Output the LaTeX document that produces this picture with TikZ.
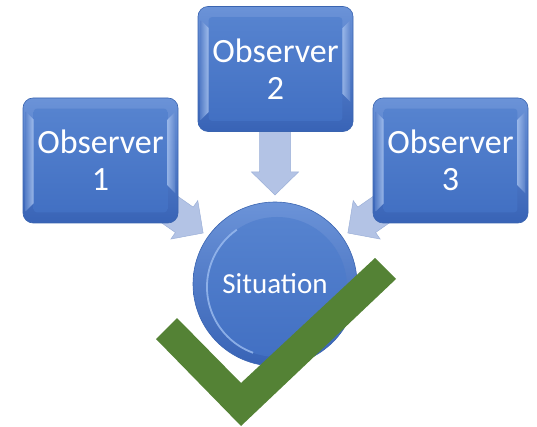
\documentclass[tikz,border=0pt]{standalone}
\usepackage{fontspec}
\setmainfont{Carlito}
\usetikzlibrary{calc}
\definecolor{boxedge}{HTML}{3A64B0}
\definecolor{boxtop}{HTML}{6B93D8}
\definecolor{boxbot}{HTML}{3863B6}
\definecolor{facetop}{HTML}{5683CF}
\definecolor{facebot}{HTML}{4270C3}
\definecolor{hilite}{HTML}{9DBDF0}
\definecolor{arrowfill}{HTML}{B3C3E5}
\definecolor{arrowedge}{HTML}{9CB0D8}
\definecolor{checkgreen}{HTML}{548235}
\newcommand\observerbox[4]{%
  \node[obsbg] (#1bg) at (#2,#3) {};
  \shade[top color=facetop,bottom color=facebot,rounded corners=3pt]
    ($(#1bg.north west)+(11,11)$) rectangle ($(#1bg.south east)+(-11,-11)$);
  \shade[left color=boxbot!60!hilite,right color=hilite!80!white,opacity=0.8]
    ($(#1bg.north west)+(3,14)$) -- ($(#1bg.north west)+(11,22)$) --
    ($(#1bg.south west)+(11,-20)$) -- ($(#1bg.south west)+(3,-12)$) -- cycle;
  \shade[left color=hilite!80!white,right color=boxbot!60!hilite,opacity=0.7]
    ($(#1bg.north east)+(-11,22)$) -- ($(#1bg.north east)+(-3,14)$) --
    ($(#1bg.south east)+(-3,-30)$) -- ($(#1bg.south east)+(-11,-38)$) -- cycle;
  \node[obstext] (#1) at (#1bg) {#4};
}
\newcommand\blockarrow[3]{%
  \begin{scope}[shift={#1},rotate=#2]
    \draw[blockarr] (0,-15.5) -- (#3-23,-15.5) -- (#3-23,-23.5) -- (#3,0) --
      (#3-23,23.5) -- (#3-23,15.5) -- (0,15.5) -- cycle;
  \end{scope}}
\begin{document}
\begin{tikzpicture}[x=1pt,y=-1pt,
  obsbg/.style={rounded corners=10pt,minimum width=155pt,minimum height=125pt,
    draw=boxedge,line width=0.6pt,top color=boxtop,bottom color=boxbot,inner sep=0pt},
  obstext/.style={minimum width=155pt,minimum height=125pt,inner sep=0pt,
    text=white,align=center,font=\fontsize{34}{37}\selectfont},
  blockarr/.style={fill=arrowfill,draw=arrowedge,line width=0.5pt,line join=miter},
  sittext/.style={circle,minimum size=164pt,inner sep=0pt,text=white,
    font=\fontsize{29}{33}\selectfont}]
\useasboundingbox (0,0) rectangle (537,427);
% block arrows (behind)
\coordinate (t1) at (154,198.6);
\coordinate (t2) at (275,122);
\coordinate (t3) at (397,198.6);
\blockarrow{(t2)}{-90}{73}
\blockarrow{(t1)}{-35}{60}
\blockarrow{(t3)}{-145}{60}
% observer boxes
\observerbox{o1}{100.5}{160.5}{Observer\\1}
\observerbox{o2}{275.5}{69}{Observer\\2}
\observerbox{o3}{450.5}{160.5}{Observer\\3}
% situation circle
\shade[top color=boxtop,bottom color=boxbot,draw=boxedge,line width=0.6pt]
  (275,284) circle[radius=82];
\shade[top color=facetop,bottom color=facebot] (277,287) circle[radius=70];
\draw[hilite,line width=1.8pt,opacity=0.8] (277,287) ++(110:70) arc[start angle=110,end angle=235,radius=70];
\node[sittext] (sit) at (275,284) {Situation};
% check mark
\fill[checkgreen] (156,339) -- (241,426) -- (396,279) -- (375,258) -- (241,383) -- (177,318) -- cycle;
\end{tikzpicture}
\end{document}
